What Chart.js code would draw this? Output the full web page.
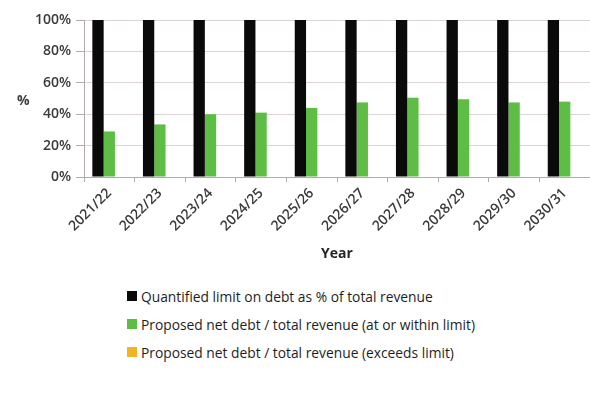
<!DOCTYPE html>
<html>
<head>
<meta charset="utf-8">
<script src="https://cdn.jsdelivr.net/npm/chart.js@4/dist/chart.umd.min.js"></script>
<style>
  html, body { margin: 0; padding: 0; background: #ffffff; }
  #wrap { position: relative; width: 590px; height: 409px; font-family: 'Open Sans', sans-serif; }
  #plot { position: absolute; left: 0; top: 0; width: 590px; height: 270px; }
  #yTitle { position: absolute; left: 17px; top: 90px; font-size: 14px; font-weight: 700; color: #404040; }
  #legend { position: absolute; left: 127px; top: 282px; }
  .lg-row { display: flex; align-items: center; height: 28px; font-size: 13.8px; color: #1e1e1e; white-space: nowrap; }
  .lg-box { width: 10px; height: 10px; margin-right: 4px; flex: none; }
</style>
</head>
<body>
<div id="wrap">
  <div id="plot"><canvas id="c"></canvas></div>
  <div id="yTitle">%</div>
  <div id="legend"></div>
</div>
<script>
// Financial years on the category axis
const categories = ['2021/22', '2022/23', '2023/24', '2024/25', '2025/26',
                    '2026/27', '2027/28', '2028/29', '2029/30', '2030/31'];

// Quantified limit on debt (% of total revenue)
const limitValues = [100, 100, 100, 100, 100, 100, 100, 100, 100, 100];

// Proposed net debt / total revenue, at or within the limit (%)
const withinLimit = [29, 33.5, 40, 41, 44, 47.5, 50.5, 49.5, 47.5, 48];

// Proposed net debt / total revenue, exceeding the limit (%) - none in this period
const exceedsLimit = [null, null, null, null, null, null, null, null, null, null];

// Value axis ticks
const yTicks = [0, 20, 40, 60, 80, 100];

const seriesNames = [
  'Quantified limit on debt as % of total revenue',
  'Proposed net debt / total revenue (at or within limit)',
  'Proposed net debt / total revenue (exceeds limit)'
];
const seriesColors = ['#0a0a0a', '#5dbd44', '#f4b321'];

Chart.defaults.font.family = "'Open Sans', sans-serif";
Chart.defaults.color = '#404040';

// Builds a vertical HTML legend from the chart's datasets
const htmlLegend = {
  id: 'htmlLegend',
  afterUpdate(chart) {
    const host = document.getElementById('legend');
    host.innerHTML = '';
    const items = chart.options.plugins.legend.labels.generateLabels(chart);
    items.forEach(item => {
      const row = document.createElement('div');
      row.className = 'lg-row';
      const box = document.createElement('span');
      box.className = 'lg-box';
      box.style.background = item.fillStyle;
      const txt = document.createElement('span');
      txt.textContent = item.text;
      row.appendChild(box);
      row.appendChild(txt);
      host.appendChild(row);
    });
  }
};

const gridColor = '#dcd4d4';
const axisColor = '#b4aaaa';

new Chart(document.getElementById('c'), {
  type: 'bar',
  data: {
    labels: categories,
    datasets: [
      { label: seriesNames[0], data: limitValues, backgroundColor: seriesColors[0] },
      { label: seriesNames[1], data: withinLimit, backgroundColor: seriesColors[1] },
      { label: seriesNames[2], data: exceedsLimit, backgroundColor: seriesColors[2] }
    ]
  },
  options: {
    responsive: true,
    maintainAspectRatio: false,
    animation: false,
    datasets: { bar: { categoryPercentage: 0.67, barPercentage: 1.0 } },
    layout: { padding: { top: 20, right: 0, left: 0, bottom: 0 } },
    plugins: {
      legend: { display: false },
      tooltip: { enabled: false }
    },
    scales: {
      x: {
        grid: {
          display: true,
          drawOnChartArea: false,
          drawTicks: true,
          tickLength: 5,
          color: axisColor,
          offset: true
        },
        border: { display: true, color: axisColor, width: 1 },
        ticks: {
          minRotation: 45,
          maxRotation: 45,
          autoSkip: false,
          padding: 3,
          color: '#3a3a3a',
          font: { size: 14, weight: '600' }
        },
        title: {
          display: true,
          text: 'Year',
          color: '#262626',
          font: { size: 14, weight: '700' },
          padding: { top: 0, bottom: 8 }
        },
        afterFit(scale) { scale.height = 93; }
      },
      y: {
        min: 0,
        max: 100,
        afterBuildTicks(scale) { scale.ticks = yTicks.map(v => ({ value: v })); },
        grid: {
          color: gridColor,
          lineWidth: 1,
          drawTicks: true,
          tickLength: 8,
          tickColor: axisColor
        },
        border: { display: true, color: axisColor, width: 1 },
        ticks: {
          padding: 5,
          color: '#3a3a3a',
          font: { size: 14, weight: '600' },
          callback: v => v + '%'
        },
        afterFit(scale) { scale.width = 84; }
      }
    }
  },
  plugins: [htmlLegend]
});
</script>
</body>
</html>
